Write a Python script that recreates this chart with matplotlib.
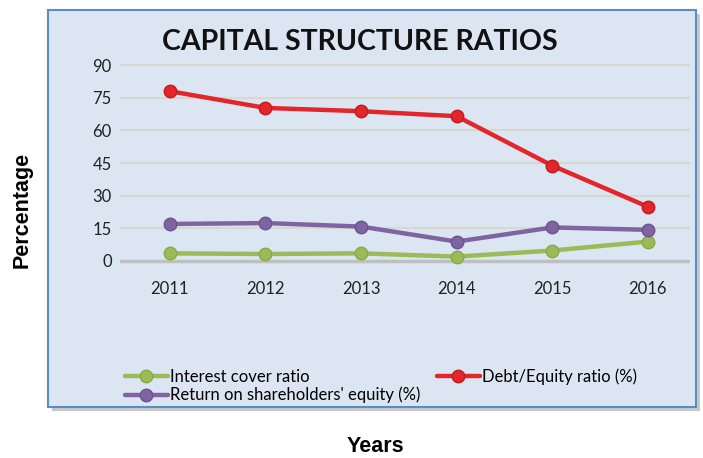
import matplotlib.pyplot as plt
from matplotlib.patches import Rectangle

years = [2011, 2012, 2013, 2014, 2015, 2016]
interest_cover = [3.5, 3.2, 3.5, 2.0, 4.8, 8.9]
debt_equity = [78.0, 70.3, 68.8, 66.5, 43.8, 24.9]
return_equity = [17.0, 17.4, 15.8, 8.9, 15.4, 14.3]

y_ticks = [0, 15, 30, 45, 60, 75, 90]

GREEN = "#9bbb59"
RED = "#e2262b"
PURPLE = "#8064a2"
PANEL = "#dce6f2"

plt.rcParams["font.family"] = ["Lato", "DejaVu Sans"]

W, H = 703, 458
fig = plt.figure(figsize=(W / 100, H / 100), dpi=100)
fig.patch.set_facecolor("white")


def fx(px):
    return px / W


def fy(py):
    return 1 - py / H


# shadow + panel behind the chart
fig.patches.append(Rectangle((fx(52), fy(411)), fx(648), (407 - 10) / H,
                             transform=fig.transFigure, facecolor="#c8c8c8",
                             edgecolor="none", zorder=0))
fig.patches.append(Rectangle((fx(48), fy(407)), fx(648), (407 - 10) / H,
                             transform=fig.transFigure, facecolor=PANEL,
                             edgecolor="#5b8cc8", linewidth=1.5, zorder=1))

ax = fig.add_axes([fx(120), fy(267.5), fx(570), (267.5 - 58.5) / H])
ax.set_facecolor("none")
ax.set_zorder(2)

for v in y_ticks:
    ax.axhline(v, color="#bfbfbf" if v == 0 else "#d8d8d0",
               lw=2.5 if v == 0 else 1.5, zorder=1)

style = dict(marker="o", markersize=9, linewidth=3.2, solid_capstyle="round",
             markeredgewidth=1)
ax.plot(years, interest_cover, color=GREEN, markeredgecolor="#8aa84a",
        label="Interest cover ratio", zorder=3, **style)
ax.plot(years, return_equity, color=PURPLE, markeredgecolor="#6c5390",
        label="Return on shareholders' equity (%)", zorder=3, **style)
ax.plot(years, debt_equity, color=RED, markeredgecolor="#c01c20",
        label="Debt/Equity ratio (%)", zorder=3, **style)

ax.set_xlim(2010.48, 2016.44)
ax.set_ylim(-3, 93)
ax.set_yticks(y_ticks)
ax.set_xticks(years)
ax.tick_params(length=0, labelsize=12, colors="#222222", pad=6)
ax.tick_params(axis="x", pad=10)
for s in ax.spines.values():
    s.set_visible(False)

fig.text(fx(360), fy(42), "CAPITAL STRUCTURE RATIOS", ha="center", va="center",
         fontsize=20.5, fontweight="bold", color="#111111")
fig.text(fx(22), fy(210), "Percentage", rotation=90, ha="center", va="center",
         fontsize=15.5, fontweight="bold", family="Liberation Sans")
fig.text(fx(375), fy(447), "Years", ha="center", va="center",
         fontsize=15.5, fontweight="bold", family="Liberation Sans")

handles, labels = ax.get_legend_handles_labels()
leg = fig.legend(handles, labels, ncol=2, loc="upper left",
                 bbox_to_anchor=(fx(118), fy(362)), frameon=False,
                 fontsize=12, handlelength=2.6, handletextpad=0.1,
                 columnspacing=1.0, labelspacing=0.1, borderaxespad=0)

fig.savefig("out.png", dpi=100)
